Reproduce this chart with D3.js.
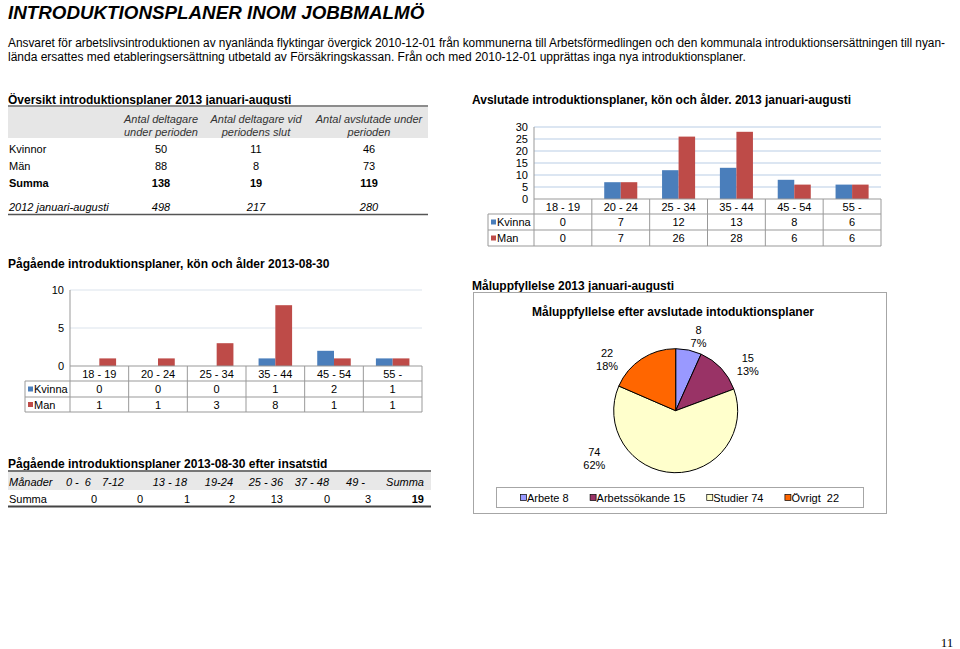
<!DOCTYPE html>
<html>
<head>
<meta charset="utf-8">
<script src="https://cdn.jsdelivr.net/npm/d3@7"></script>
<style>
  body { margin: 0; background: #fff; }
  svg { display: block; font-family: "Liberation Sans", Arial, sans-serif; }
  text { white-space: pre; }
</style>
</head>
<body>
<script>
//--> Data
const ageGroups = ["18 - 19", "20 - 24", "25 - 34", "35 - 44", "45 - 54", "55 -"];
const genders = ["Kvinna", "Man"];
const avslutadeKvinna = [0, 7, 12, 13, 8, 6];
const avslutadeMan = [0, 7, 26, 28, 6, 6];
const pagaendeKvinna = [0, 0, 0, 1, 2, 1];
const pagaendeMan = [1, 1, 3, 8, 1, 1];

const overviewHeaders = [
  ["Antal deltagare", "under perioden"],
  ["Antal deltagare vid", "periodens slut"],
  ["Antal avslutade under", "perioden"]
];
const overviewRows = ["Kvinnor", "Män", "Summa", "2012 januari-augusti"];
const overviewValues = [
  [50, 11, 46],
  [88, 8, 73],
  [138, 19, 119],
  [498, 217, 280]
];

const insatsHeaders = ["0 -  6", "7-12", "13 - 18", "19-24", "25 - 36", "37 - 48", "49 -", "Summa"];
const insatsValues = [0, 0, 1, 2, 13, 0, 3, 19];

const pieLabels = ["Arbete", "Arbetssökande", "Studier", "Övrigt"];
const pieValues = [8, 15, 74, 22];

const introLines = [
  "Ansvaret för arbetslivsintroduktionen av nyanlända flyktingar övergick 2010-12-01 från kommunerna till Arbetsförmedlingen och den kommunala introduktionsersättningen till nyan-",
  "lända ersattes med etableringsersättning utbetald av Försäkringskassan. Från och med 2010-12-01 upprättas inga nya introduktionsplaner."
];

//--> Constants
const width = 960;
const height = 649;
const blue = "#4a7ebb";
const red = "#be4b48";
const pieColors = ["#9999ff", "#993366", "#ffffcc", "#ff6600"];

const svg = d3.select("body").append("svg")
  .attr("width", width)
  .attr("height", height);

//--> Page heading
svg.append("text")
  .attr("x", 8).attr("y", 19)
  .attr("font-size", 18.8).attr("font-weight", "bold").attr("font-style", "italic")
  .text("INTRODUKTIONSPLANER INOM JOBBMALMÖ");

svg.selectAll(".intro")
  .data(introLines)
  .enter()
  .append("text")
  .attr("class", "intro")
  .attr("x", 8)
  .attr("y", (d, i) => 47 + i * 14)
  .attr("font-size", 12)
  .attr("textLength", (d, i) => (i === 0 ? 937 : null))
  .attr("lengthAdjust", "spacingAndGlyphs")
  .text(d => d);

//--> Helpers
const sectionTitle = (x, y, t) =>
  svg.append("text").attr("x", x).attr("y", y)
    .attr("font-size", 12).attr("font-weight", "bold").text(t);

const hline = (g, x1, x2, y, color, w) =>
  g.append("line").attr("x1", x1).attr("x2", x2).attr("y1", y).attr("y2", y)
    .attr("stroke", color).attr("stroke-width", w);

const vline = (g, x, y1, y2, color) =>
  g.append("line").attr("x1", x).attr("x2", x).attr("y1", y1).attr("y2", y2)
    .attr("stroke", color).attr("stroke-width", 1);

//--> Overview table
sectionTitle(8, 104, "Översikt introduktionsplaner 2013 januari-augusti");
const t1 = svg.append("g");
t1.append("rect").attr("x", 8).attr("y", 106).attr("width", 420).attr("height", 32).attr("fill", "#e6e6e6");
hline(t1, 8, 428, 106, "#8c8c8c", 2);
hline(t1, 8, 428, 214.5, "#555", 1.5);

const colX = [161, 256, 369];
overviewHeaders.forEach((lines, c) => {
  lines.forEach((l, k) => {
    t1.append("text")
      .attr("x", colX[c]).attr("y", 123 + k * 13)
      .attr("text-anchor", "middle")
      .attr("font-size", 11).attr("font-style", "italic").attr("fill", "#333")
      .text(l);
  });
});
const rowY = [153, 170, 187, 211];
overviewRows.forEach((r, i) => {
  const style = i === 2 ? "bold" : "normal";
  const italic = i === 3 ? "italic" : "normal";
  t1.append("text").attr("x", 9).attr("y", rowY[i])
    .attr("font-size", 11).attr("font-weight", style).attr("font-style", italic).text(r);
  overviewValues[i].forEach((v, c) => {
    t1.append("text").attr("x", colX[c]).attr("y", rowY[i])
      .attr("text-anchor", "middle")
      .attr("font-size", 11).attr("font-weight", style).attr("font-style", italic).text(v);
  });
});

//--> Grouped bar chart with data table
function barChart(cfg) {
  const g = svg.append("g");
  const x = d3.scaleBand().domain(ageGroups).range([cfg.left, cfg.right]);
  const xi = d3.scaleBand().domain(genders).range([0, x.bandwidth()]).paddingOuter(0.75);
  const y = d3.scaleLinear().domain([0, cfg.max]).range([cfg.rows[0], cfg.top]);
  const ticks = d3.range(0, cfg.max + 1, cfg.step);

  ticks.filter(t => t > 0).forEach(t => hline(g, cfg.left, cfg.right, y(t), cfg.grid, 1));

  g.selectAll(".ytick")
    .data(ticks)
    .enter()
    .append("text")
    .attr("x", cfg.left - 6)
    .attr("y", d => y(d) + 4)
    .attr("text-anchor", "end")
    .attr("font-size", 11)
    .text(d => d);

  const series = [cfg.kvinna, cfg.man];
  series.forEach((vals, s) => {
    g.selectAll(".bar" + s)
      .data(vals)
      .enter()
      .append("rect")
      .attr("x", (d, i) => x(ageGroups[i]) + xi(genders[s]))
      .attr("y", d => y(d))
      .attr("width", xi.bandwidth())
      .attr("height", d => y(0) - y(d))
      .attr("fill", s === 0 ? blue : red);
  });

  // data table
  const rows = cfg.rows;
  const bottom = rows[3];
  const lc = "#999";
  vline(g, cfg.left, cfg.top, bottom, lc);
  ageGroups.forEach(a => vline(g, x(a) + x.bandwidth(), rows[0], bottom, lc));
  vline(g, cfg.legendLeft, rows[1], bottom, lc);
  hline(g, cfg.left, cfg.right, rows[0], lc, 1);
  [1, 2, 3].forEach(k => hline(g, cfg.legendLeft, cfg.right, rows[k], lc, 1));

  g.selectAll(".cat")
    .data(ageGroups)
    .enter()
    .append("text")
    .attr("x", d => x(d) + x.bandwidth() / 2)
    .attr("y", (rows[0] + rows[1]) / 2 + 4)
    .attr("text-anchor", "middle")
    .attr("font-size", 11)
    .text(d => d);

  series.forEach((vals, s) => {
    const cy = (rows[s + 1] + rows[s + 2]) / 2;
    g.append("rect")
      .attr("x", cfg.legendLeft + 3).attr("y", cy - 2.5)
      .attr("width", 5).attr("height", 5)
      .attr("fill", s === 0 ? blue : red);
    g.append("text")
      .attr("x", cfg.legendLeft + 9).attr("y", cy + 4)
      .attr("font-size", 11).text(genders[s]);
    g.selectAll(".val" + s)
      .data(vals)
      .enter()
      .append("text")
      .attr("x", (d, i) => x(ageGroups[i]) + x.bandwidth() / 2)
      .attr("y", cy + 4)
      .attr("text-anchor", "middle")
      .attr("font-size", 11)
      .text(d => d);
  });
}

sectionTitle(472, 103.5, "Avslutade introduktionsplaner, kön och ålder. 2013 januari-augusti");
barChart({
  left: 534, right: 881, top: 127, max: 30, step: 5,
  rows: [199, 214, 230, 246], legendLeft: 488,
  grid: "#b9cde5", kvinna: avslutadeKvinna, man: avslutadeMan
});

sectionTitle(8, 267.5, "Pågående introduktionsplaner, kön och ålder 2013-08-30");
barChart({
  left: 70, right: 422, top: 290, max: 10, step: 5,
  rows: [366, 381, 397, 412], legendLeft: 25,
  grid: "#dbe3ec", kvinna: pagaendeKvinna, man: pagaendeMan
});

//--> Insatstid table
sectionTitle(8, 467.5, "Pågående introduktionsplaner 2013-08-30 efter insatstid");
const t3 = svg.append("g");
t3.append("rect").attr("x", 8).attr("y", 471).attr("width", 423).attr("height", 19).attr("fill", "#e8e8e8");
hline(t3, 8, 431, 471, "#777", 2);
hline(t3, 8, 431, 506.5, "#444", 2);
const headX = [91, 124, 187, 233, 283, 329, 365, 424];
const valX = [97, 143, 190, 235, 283, 330, 371, 424];
t3.append("text").attr("x", 9).attr("y", 486).attr("font-size", 11).attr("font-style", "italic").text("Månader");
t3.append("text").attr("x", 9).attr("y", 503).attr("font-size", 11).text("Summa");
insatsHeaders.forEach((h, i) => {
  t3.append("text").attr("x", headX[i]).attr("y", 486).attr("text-anchor", "end")
    .attr("font-size", 11).attr("font-style", "italic").text(h);
  t3.append("text").attr("x", valX[i]).attr("y", 503).attr("text-anchor", "end")
    .attr("font-size", 11).attr("font-weight", i === insatsValues.length - 1 ? "bold" : "normal")
    .text(insatsValues[i]);
});

//--> Pie chart
sectionTitle(472, 289.5, "Måluppfyllelse 2013 januari-augusti");
const pg = svg.append("g");
pg.append("rect").attr("x", 473.5).attr("y", 292.5).attr("width", 413).attr("height", 221)
  .attr("fill", "none").attr("stroke", "#a6a6a6");
pg.append("text").attr("x", 673).attr("y", 316).attr("text-anchor", "middle")
  .attr("font-size", 12).attr("font-weight", "bold")
  .text("Måluppfyllelse efter avslutade intoduktionsplaner");

const cx = 675.7, cy = 410.7, radius = 62;
const total = d3.sum(pieValues);
const pie = d3.pie().sort(null).value(d => d);
const arc = d3.arc().innerRadius(0).outerRadius(radius);
const arcs = pie(pieValues);
const pieG = pg.append("g").attr("transform", `translate(${cx},${cy})`);
pieG.selectAll("path")
  .data(arcs)
  .enter()
  .append("path")
  .attr("d", arc)
  .attr("fill", (d, i) => pieColors[i])
  .attr("stroke", "#000")
  .attr("stroke-width", 1);

// label anchor angle (deg, clockwise from top) and distance
const labelAnchors = [[17, 78], [57, 86], [240, 94], [307, 86]];
arcs.forEach((d, i) => {
  const a = labelAnchors[i][0] * Math.PI / 180;
  const r = labelAnchors[i][1];
  const lx = Math.sin(a) * r, ly = -Math.cos(a) * r;
  const t = pieG.append("text").attr("text-anchor", "middle").attr("font-size", 11);
  t.append("tspan").attr("x", lx).attr("y", ly - 2).text(d.data);
  t.append("tspan").attr("x", lx).attr("y", ly + 11)
    .text(`${Math.round(d.data / total * 100)}%`);
});

// legend
pg.append("rect").attr("x", 496.5).attr("y", 487.5).attr("width", 367).attr("height", 20)
  .attr("fill", "none").attr("stroke", "#a6a6a6");
let lx = 520;
pieLabels.forEach((l, i) => {
  pg.append("rect").attr("x", lx + 0.5).attr("y", 494.5).attr("width", 6).attr("height", 6)
    .attr("fill", pieColors[i]).attr("stroke", "#000").attr("stroke-width", 0.7);
  const sep = i === 3 ? "  " : " ";
  const t = pg.append("text").attr("x", lx + 7).attr("y", 501.5).attr("font-size", 11)
    .text(`${l}${sep}${pieValues[i]}`);
  lx += 7 + t.node().getComputedTextLength() + 21;
});

//--> Page number
svg.append("text")
  .attr("x", 947).attr("y", 647)
  .attr("text-anchor", "middle")
  .attr("font-family", "'Liberation Serif', serif")
  .attr("font-size", 13)
  .text("11");
</script>
</body>
</html>
